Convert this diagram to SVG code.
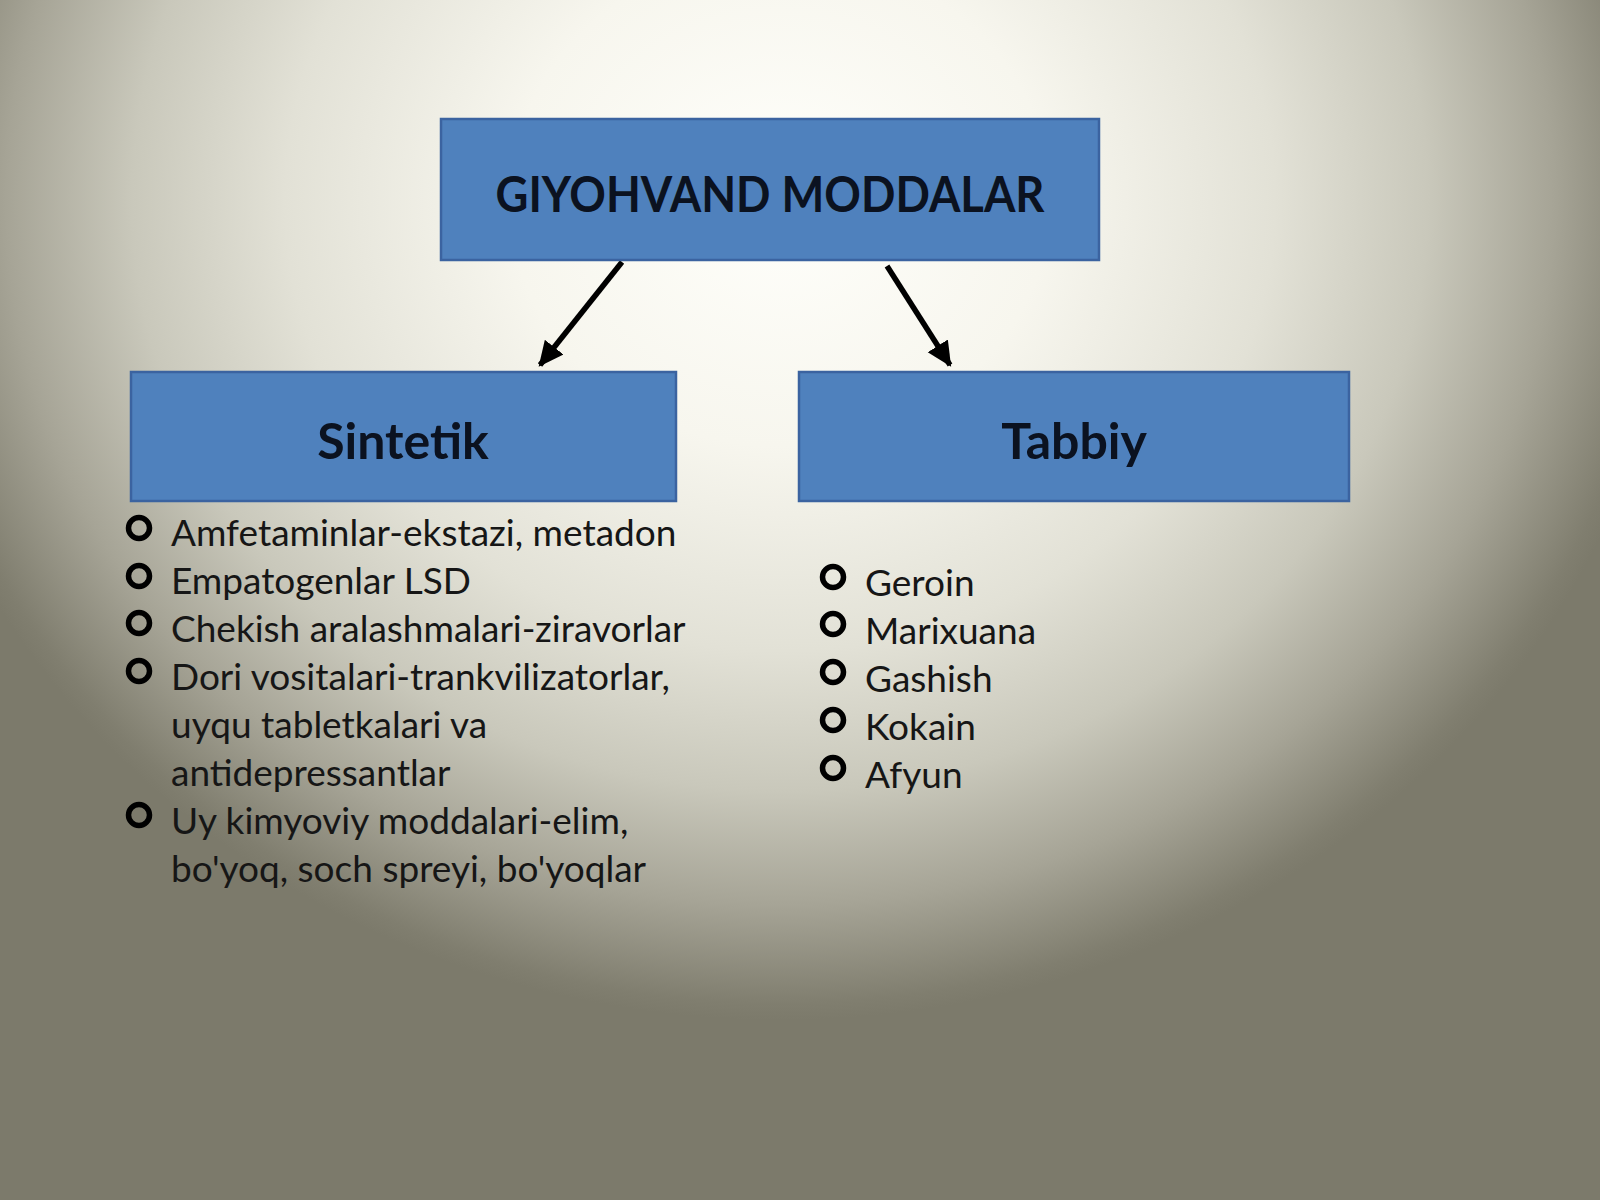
<svg xmlns="http://www.w3.org/2000/svg" width="1600" height="1200" viewBox="0 0 1600 1200">
<defs>
<radialGradient id="bg" gradientUnits="userSpaceOnUse" cx="0" cy="0" r="1" gradientTransform="translate(780 200) scale(900 820)">
<stop offset="0" stop-color="#fffffb"/>
<stop offset="0.3" stop-color="#f7f6ee"/>
<stop offset="0.55" stop-color="#e2e1d6"/>
<stop offset="0.72" stop-color="#c9c8bb"/>
<stop offset="0.86" stop-color="#a6a496"/>
<stop offset="0.98" stop-color="#807e6f"/>
<stop offset="1" stop-color="#7c7a6b"/>
</radialGradient>
<marker id="ah" markerUnits="userSpaceOnUse" markerWidth="26" markerHeight="26" refX="21" refY="11" orient="auto" viewBox="0 0 24 22">
<path d="M0,0 L23,11 L0,22 Z" fill="#000"/>
</marker>
<style>
.box{fill:#4f81bd;stroke:#3b63a0;stroke-width:2.5}
.head{font-family:Lato,"Liberation Sans",sans-serif;font-weight:bold;fill:#0b1220;text-anchor:middle}
.item{font-family:Lato,"Liberation Sans",sans-serif;font-size:37px;fill:#161616}
.bul{fill:none;stroke:#000;stroke-width:5.5}
.conn{stroke:#000;stroke-width:5.5;fill:none}
</style>
</defs>
<rect x="0" y="0" width="1600" height="1200" fill="url(#bg)"/>
<g id="connectors">
<line class="conn" x1="622" y1="262" x2="540" y2="365" marker-end="url(#ah)"/>
<line class="conn" x1="887" y1="266" x2="950" y2="365" marker-end="url(#ah)"/>
</g>
<g id="node-root">
<rect class="box" x="441" y="119" width="658" height="141"/>
<text class="head" x="770" y="212" font-size="50" textLength="549" lengthAdjust="spacingAndGlyphs">GIYOHVAND MODDALAR</text>
</g>
<g id="node-sintetik">
<rect class="box" x="131" y="372" width="545" height="129"/>
<text class="head" x="403" y="459" font-size="50">Sintetik</text>
</g>
<g id="node-tabbiy">
<rect class="box" x="799" y="372" width="550" height="129"/>
<text class="head" x="1074" y="459" font-size="50">Tabbiy</text>
</g>
<g id="list-sintetik">
<circle class="bul" cx="139" cy="528" r="10.5"/>
<circle class="bul" cx="139" cy="576" r="10.5"/>
<circle class="bul" cx="139" cy="623" r="10.5"/>
<circle class="bul" cx="139" cy="671" r="10.5"/>
<circle class="bul" cx="139" cy="815" r="10.5"/>
<text class="item" x="171" y="546">Amfetaminlar-ekstazi, metadon</text>
<text class="item" x="171" y="594">Empatogenlar LSD</text>
<text class="item" x="171" y="642">Chekish aralashmalari-ziravorlar</text>
<text class="item" x="171" y="690">Dori vositalari-trankvilizatorlar,</text>
<text class="item" x="171" y="738">uyqu tabletkalari va</text>
<text class="item" x="171" y="786">antidepressantlar</text>
<text class="item" x="171" y="834">Uy kimyoviy moddalari-elim,</text>
<text class="item" x="171" y="882">bo'yoq, soch spreyi, bo'yoqlar</text>
</g>
<g id="list-tabbiy">
<circle class="bul" cx="833" cy="577" r="10.5"/>
<circle class="bul" cx="833" cy="624" r="10.5"/>
<circle class="bul" cx="833" cy="672" r="10.5"/>
<circle class="bul" cx="833" cy="720" r="10.5"/>
<circle class="bul" cx="833" cy="768" r="10.5"/>
<text class="item" x="865" y="596">Geroin</text>
<text class="item" x="865" y="644">Marixuana</text>
<text class="item" x="865" y="692">Gashish</text>
<text class="item" x="865" y="740">Kokain</text>
<text class="item" x="865" y="788">Afyun</text>
</g>
</svg>
